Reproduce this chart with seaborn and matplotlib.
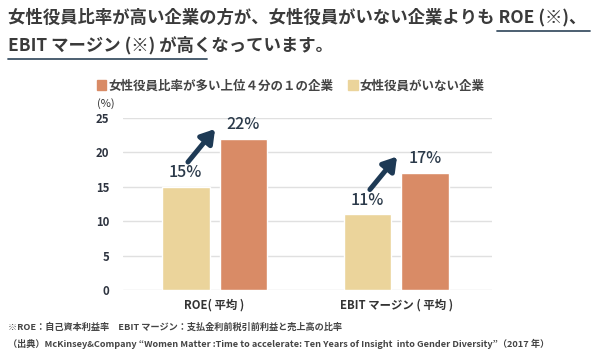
import numpy as np
import pandas as pd
import matplotlib
matplotlib.use("Agg")
import matplotlib.pyplot as plt
import seaborn as sns

categories = ["ROE( 平均 )", "EBIT マージン ( 平均 )"]
groups = ["女性役員比率が多い上位４分の１の企業", "女性役員がいない企業"]
top_quartile = [22, 17]
no_women = [15, 11]
yticks = [0, 5, 10, 15, 20, 25]

C_ORANGE = "#D98B66"
C_CREAM = "#EBD49B"
C_NAVY = "#1E3A55"
C_TEXT = "#3A3A3A"

sns.set_style("white")
plt.rcParams["font.family"] = ["Noto Sans CJK JP", "DejaVu Sans"]

df = pd.DataFrame({
    "cat": categories * 2,
    "group": [groups[1]] * 2 + [groups[0]] * 2,
    "value": no_women + top_quartile,
})

fig = plt.figure(figsize=(5.96, 3.53), dpi=100)
ax = fig.add_axes([123 / 596, 1 - 290 / 353, (492 - 123) / 596, (290 - 118) / 353])

sns.barplot(data=df, x="cat", y="value", hue="group", order=categories,
            hue_order=[groups[1], groups[0]], saturation=1,
            palette=[C_CREAM, C_ORANGE], width=0.632, gap=0.174,
            legend=False, ax=ax)

ax.set_xlim(-0.503, 1.525)
ax.set_ylim(0, 25)
ax.set_yticks(yticks)
ax.grid(axis="y", color="#E0E0E0", linewidth=1.0)
ax.set_axisbelow(True)
for s in ax.spines.values():
    s.set_visible(False)
ax.set_xlabel("")
ax.set_ylabel("")
ax.tick_params(axis="y", length=0, pad=10, labelsize=8.2, labelcolor="#2E3440")
ax.tick_params(axis="x", length=0, pad=6, labelsize=8.2, labelcolor="#333333")
for t in ax.get_xticklabels() + ax.get_yticklabels():
    t.set_fontweight("bold")

# value labels
for cont in ax.containers:
    ax.bar_label(cont, fmt="%d%%", padding=4, fontsize=11.5,
                 color="#2B3A4A", fontweight="medium")

# arrows from low bar toward high bar
for i, (lo, hi) in enumerate(zip(no_women, top_quartile)):
    ax.annotate("", xy=(i + 0.003, lo + 8.4), xytext=(i - 0.146, lo + 3.6),
                arrowprops=dict(arrowstyle="-|>,head_length=0.8,head_width=0.5",
                                color=C_NAVY, lw=3.6, shrinkA=0, shrinkB=0))

fig.text(97 / 596, 1 - 104 / 353, "(%)", fontsize=8, color="#333333",
         va="center", ha="left")

# legend
handles = [plt.Rectangle((0, 0), 1, 1, color=C_ORANGE),
           plt.Rectangle((0, 0), 1, 1, color=C_CREAM)]
fig.legend(handles, groups, loc="center left", bbox_to_anchor=(97 / 596, 1 - 86 / 353),
           ncol=2, frameon=False, handlelength=0.75, handleheight=0.9,
           handletextpad=0.15, columnspacing=1.2, borderaxespad=0, borderpad=0,
           prop={"size": 9, "weight": "bold"}, labelcolor="#444444")

# title
fig.text(8 / 596, 1 - 17 / 353,
         "女性役員比率が高い企業の方が、女性役員がいない企業よりも ROE (※)、",
         fontsize=12.5, fontweight="bold", color=C_TEXT, va="center", ha="left")
fig.text(8 / 596, 1 - 45 / 353, "EBIT マージン (※) が高くなっています。",
         fontsize=12.5, fontweight="bold", color=C_TEXT, va="center", ha="left")
fig.add_artist(plt.Line2D([497 / 596, 590 / 596], [1 - 31 / 353] * 2,
                          color="#3E5366", lw=1.3))
fig.add_artist(plt.Line2D([8 / 596, 207 / 596], [1 - 59 / 353] * 2,
                          color="#3E5366", lw=1.3))

# footnotes
fig.text(8 / 596, 1 - 327 / 353,
         "※ROE：自己資本利益率　EBIT マージン：支払金利前税引前利益と売上高の比率",
         fontsize=6.6, fontweight="bold", color="#444444", va="center")
fig.text(8 / 596, 1 - 344 / 353,
         "（出典）McKinsey&Company \u201cWomen Matter :Time to accelerate: Ten Years of Insight  into Gender Diversity\u201d（2017 年）",
         fontsize=6.6, fontweight="bold", color="#444444", va="center")

fig.savefig("out.png", dpi=100)
